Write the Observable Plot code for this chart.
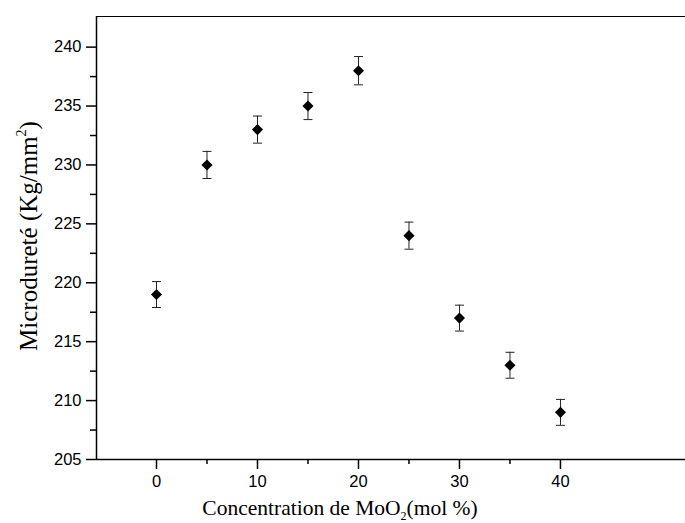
<!DOCTYPE html>
<html>
<head>
<meta charset="utf-8">
<script src="https://cdn.jsdelivr.net/npm/d3@7"></script>
<script src="https://cdn.jsdelivr.net/npm/@observablehq/plot@0.6"></script>
<style>
  html, body { margin: 0; padding: 0; background: #fff; }
  #chart svg { display: block; }
</style>
</head>
<body>
<div id="chart"></div>
<script>
const concentrations = [0, 5, 10, 15, 20, 25, 30, 35, 40];
const hardness = [219, 230, 233, 235, 238, 224, 217, 213, 209];
const errors = [1.1, 1.15, 1.15, 1.15, 1.2, 1.15, 1.1, 1.1, 1.1];
const xMajorTicks = [0, 10, 20, 30, 40];
const xMinorTicks = [5, 15, 25, 35];
const yMajorTicks = [205, 210, 215, 220, 225, 230, 235, 240];
const yMinorTicks = [207.5, 212.5, 217.5, 222.5, 227.5, 232.5, 237.5];
const xDomain = [-5.94, 52.38];
const yDomain = [205, 242.6];

const data = concentrations.map((x, i) => ({x, y: hardness[i], e: errors[i]}));

const cap = {
  draw(context, size) {
    const h = Math.sqrt(size / Math.PI);
    context.moveTo(-h, 0);
    context.lineTo(h, 0);
  }
};

const tickFont = "Liberation Sans, Arial, sans-serif";

const plot = Plot.plot({
  width: 685,
  height: 523,
  marginLeft: 96,
  marginRight: 0,
  marginTop: 16,
  marginBottom: 64,
  style: {fontFamily: tickFont, fontSize: "16.5px", color: "black", background: "white"},
  x: {domain: xDomain},
  y: {domain: yDomain},
  marks: [
    Plot.axisX({ticks: xMajorTicks, tickSize: 10, tickPadding: 6, tickFormat: d => String(d), label: null, strokeWidth: 1.5, fontSize: 16.5}),
    Plot.axisX({ticks: xMinorTicks, tickSize: 5, tickFormat: () => "", label: null, strokeWidth: 1.5}),
    Plot.axisY({ticks: yMajorTicks, tickSize: 10, tickPadding: 5, tickFormat: d => String(d), label: null, strokeWidth: 1.5, fontSize: 16.5}),
    Plot.axisY({ticks: yMinorTicks, tickSize: 6, tickFormat: () => "", label: null, strokeWidth: 1.5}),
    Plot.ruleX([xDomain[0]], {stroke: "black", strokeWidth: 1.5}),
    Plot.ruleY([yDomain[0]], {stroke: "black", strokeWidth: 1.5}),
    Plot.ruleY([yDomain[1]], {stroke: "black", strokeWidth: 1}),
    Plot.ruleX(data, {x: "x", y1: d => d.y - d.e, y2: d => d.y + d.e, stroke: "#222", strokeWidth: 1}),
    Plot.dot(data, {x: "x", y: d => d.y + d.e, symbol: cap, r: 4.5, stroke: "#222", strokeWidth: 1}),
    Plot.dot(data, {x: "x", y: d => d.y - d.e, symbol: cap, r: 4.5, stroke: "#222", strokeWidth: 1}),
    Plot.dot(data, {x: "x", y: "y", symbol: "diamond2", r: 5, fill: "black", stroke: "none"})
  ]
});

document.getElementById("chart").appendChild(plot);

// Axis titles with sub/superscripts
const svg = d3.select(plot);
const serif = "Liberation Serif, Times New Roman, serif";

const xl = svg.append("text")
  .attr("x", 340).attr("y", 515)
  .attr("text-anchor", "middle")
  .attr("font-family", serif).attr("font-size", 21.5).attr("fill", "black");
xl.append("tspan").text("Concentration de MoO");
xl.append("tspan").attr("font-size", 12).attr("dy", 5).text("2");
xl.append("tspan").attr("dy", -5).text("(mol %)");

const yl = svg.append("text")
  .attr("transform", "translate(37,236) rotate(-90)")
  .attr("text-anchor", "middle")
  .attr("font-family", serif).attr("font-size", 25).attr("fill", "black");
yl.append("tspan").text("Microdureté (Kg/mm");
yl.append("tspan").attr("font-size", 14).attr("dy", -11).text("2");
yl.append("tspan").attr("dy", 11).text(")");
</script>
</body>
</html>
